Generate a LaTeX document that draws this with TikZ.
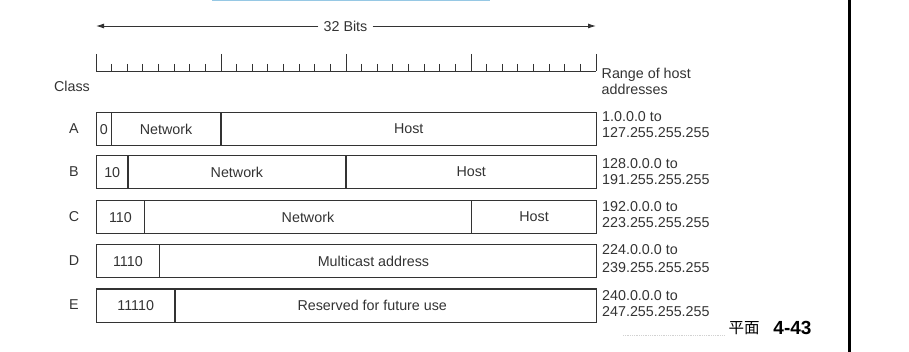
\documentclass[tikz,border=0pt]{standalone}
\usepackage{fontspec}
\setmainfont{Liberation Sans}
\newfontfamily\cjkfont{Noto Sans CJK SC}
\usetikzlibrary{arrows.meta}

\definecolor{inkgray}{HTML}{333333}
\definecolor{rulerblue}{RGB}{150,200,228}

% one field of an address layout: name, left x, right x, top y, text
\newcommand\ipfield[5]{%
  \node[field, minimum width={#3pt-#2pt}] (#1) at (#2,#4) {#5};}

\begin{document}
\begin{tikzpicture}[x=1pt, y=-1pt,
  txt/.style={font=\fontsize{14.3}{16}\selectfont, text=inkgray, inner sep=0pt},
  field/.style={txt, draw=inkgray, line width=1.2pt, rectangle,
    anchor=north west, minimum height=33pt},
  rangetxt/.style={txt, anchor=base west},
  tick/.style={draw=inkgray, line width=0.9pt},
  dimarrow/.style={draw=inkgray, line width=0.9pt, -{Latex[length=8pt,width=5pt]}}
]
\useasboundingbox (0,0) rectangle (909,352);

% frame pieces
\draw[rulerblue, line width=1.5pt] (212,0.4) -- (490,0.4);
\draw[black, line width=3pt] (849.3,0) -- (849.3,352);

% 32-bit width arrow
\coordinate (bitsL) at (96,26);
\coordinate (bitsR) at (596,26);
\node[txt, inner xsep=5pt] (bits) at (345.5,26) {32 Bits};
\draw[dimarrow] (bits) -- (bitsL);
\draw[dimarrow] (bits) -- (bitsR);

% bit ruler
\draw[tick] (96,71) -- (596,71);
\foreach \i in {0,...,32}{
  \pgfmathsetmacro{\tx}{96+\i*15.625}
  \pgfmathtruncatemacro{\major}{mod(\i,8)==0}
  \ifnum\major=1
    \draw[tick] (\tx,54) -- (\tx,71);
  \else
    \draw[tick] (\tx,64) -- (\tx,71);
  \fi
}

% column headings
\node[txt] (classhead) at (72,86) {Class};
\node[rangetxt] (rangehead1) at (601.5,79) {Range of host};
\node[rangetxt] (rangehead2) at (601.5,94.5) {addresses};

% class A
\node[txt] (clsA) at (74,128.5) {A};
\ipfield{a1}{96}{110.7}{112}{0}
\ipfield{a2}{110.7}{220.3}{112}{Network}
\ipfield{a3}{220.3}{596}{112}{Host}
\node[rangetxt] (rA1) at (602,121.5) {1.0.0.0 to};
\node[rangetxt] (rA2) at (602,137.5) {127.255.255.255};

% class B
\node[txt] (clsB) at (74,171.5) {B};
\ipfield{b1}{96}{127.3}{155}{10}
\ipfield{b2}{127.3}{345.3}{155}{Network}
\ipfield{b3}{345.3}{596}{155}{Host}
\node[rangetxt] (rB1) at (602,168.5) {128.0.0.0 to};
\node[rangetxt] (rB2) at (602,185) {191.255.255.255};

% class C
\node[txt] (clsC) at (74,216.5) {C};
\ipfield{c1}{96}{143.7}{200}{110}
\ipfield{c2}{143.7}{471}{200}{Network}
\ipfield{c3}{471}{596}{200}{Host}
\node[rangetxt] (rC1) at (602,212) {192.0.0.0 to};
\node[rangetxt] (rC2) at (602,228) {223.255.255.255};

% class D
\node[txt] (clsD) at (74,260.5) {D};
\ipfield{d1}{96}{158.7}{244}{1110}
\ipfield{d2}{158.7}{596}{244}{}
\node[txt] (d2t) at ([xshift=-4.5pt]d2.center) {Multicast address};
\node[rangetxt] (rD1) at (602,255) {224.0.0.0 to};
\node[rangetxt] (rD2) at (602,272.5) {239.255.255.255};

% class E
\node[txt] (clsE) at (74,305) {E};
\ipfield{e1}{96}{174.3}{288.5}{11110}
\ipfield{e2}{174.3}{596}{288.5}{}
\node[txt] (e2t) at ([xshift=-13.5pt]e2.center) {Reserved for future use};
\node[rangetxt] (rE1) at (602,300) {240.0.0.0 to};
\node[rangetxt] (rE2) at (602,316.5) {247.255.255.255};

% page caption
\draw[gray!35, line width=0.8pt, densely dotted] (623,335) -- (724,335);
\node[inner sep=0pt, font=\cjkfont\fontsize{15.5}{16}\selectfont] (capcn) at (744,328) {平面};
\node[inner sep=0pt, font=\bfseries\fontsize{19}{20}\selectfont] (capnum) at (792.5,328) {4-43};
\end{tikzpicture}
\end{document}
